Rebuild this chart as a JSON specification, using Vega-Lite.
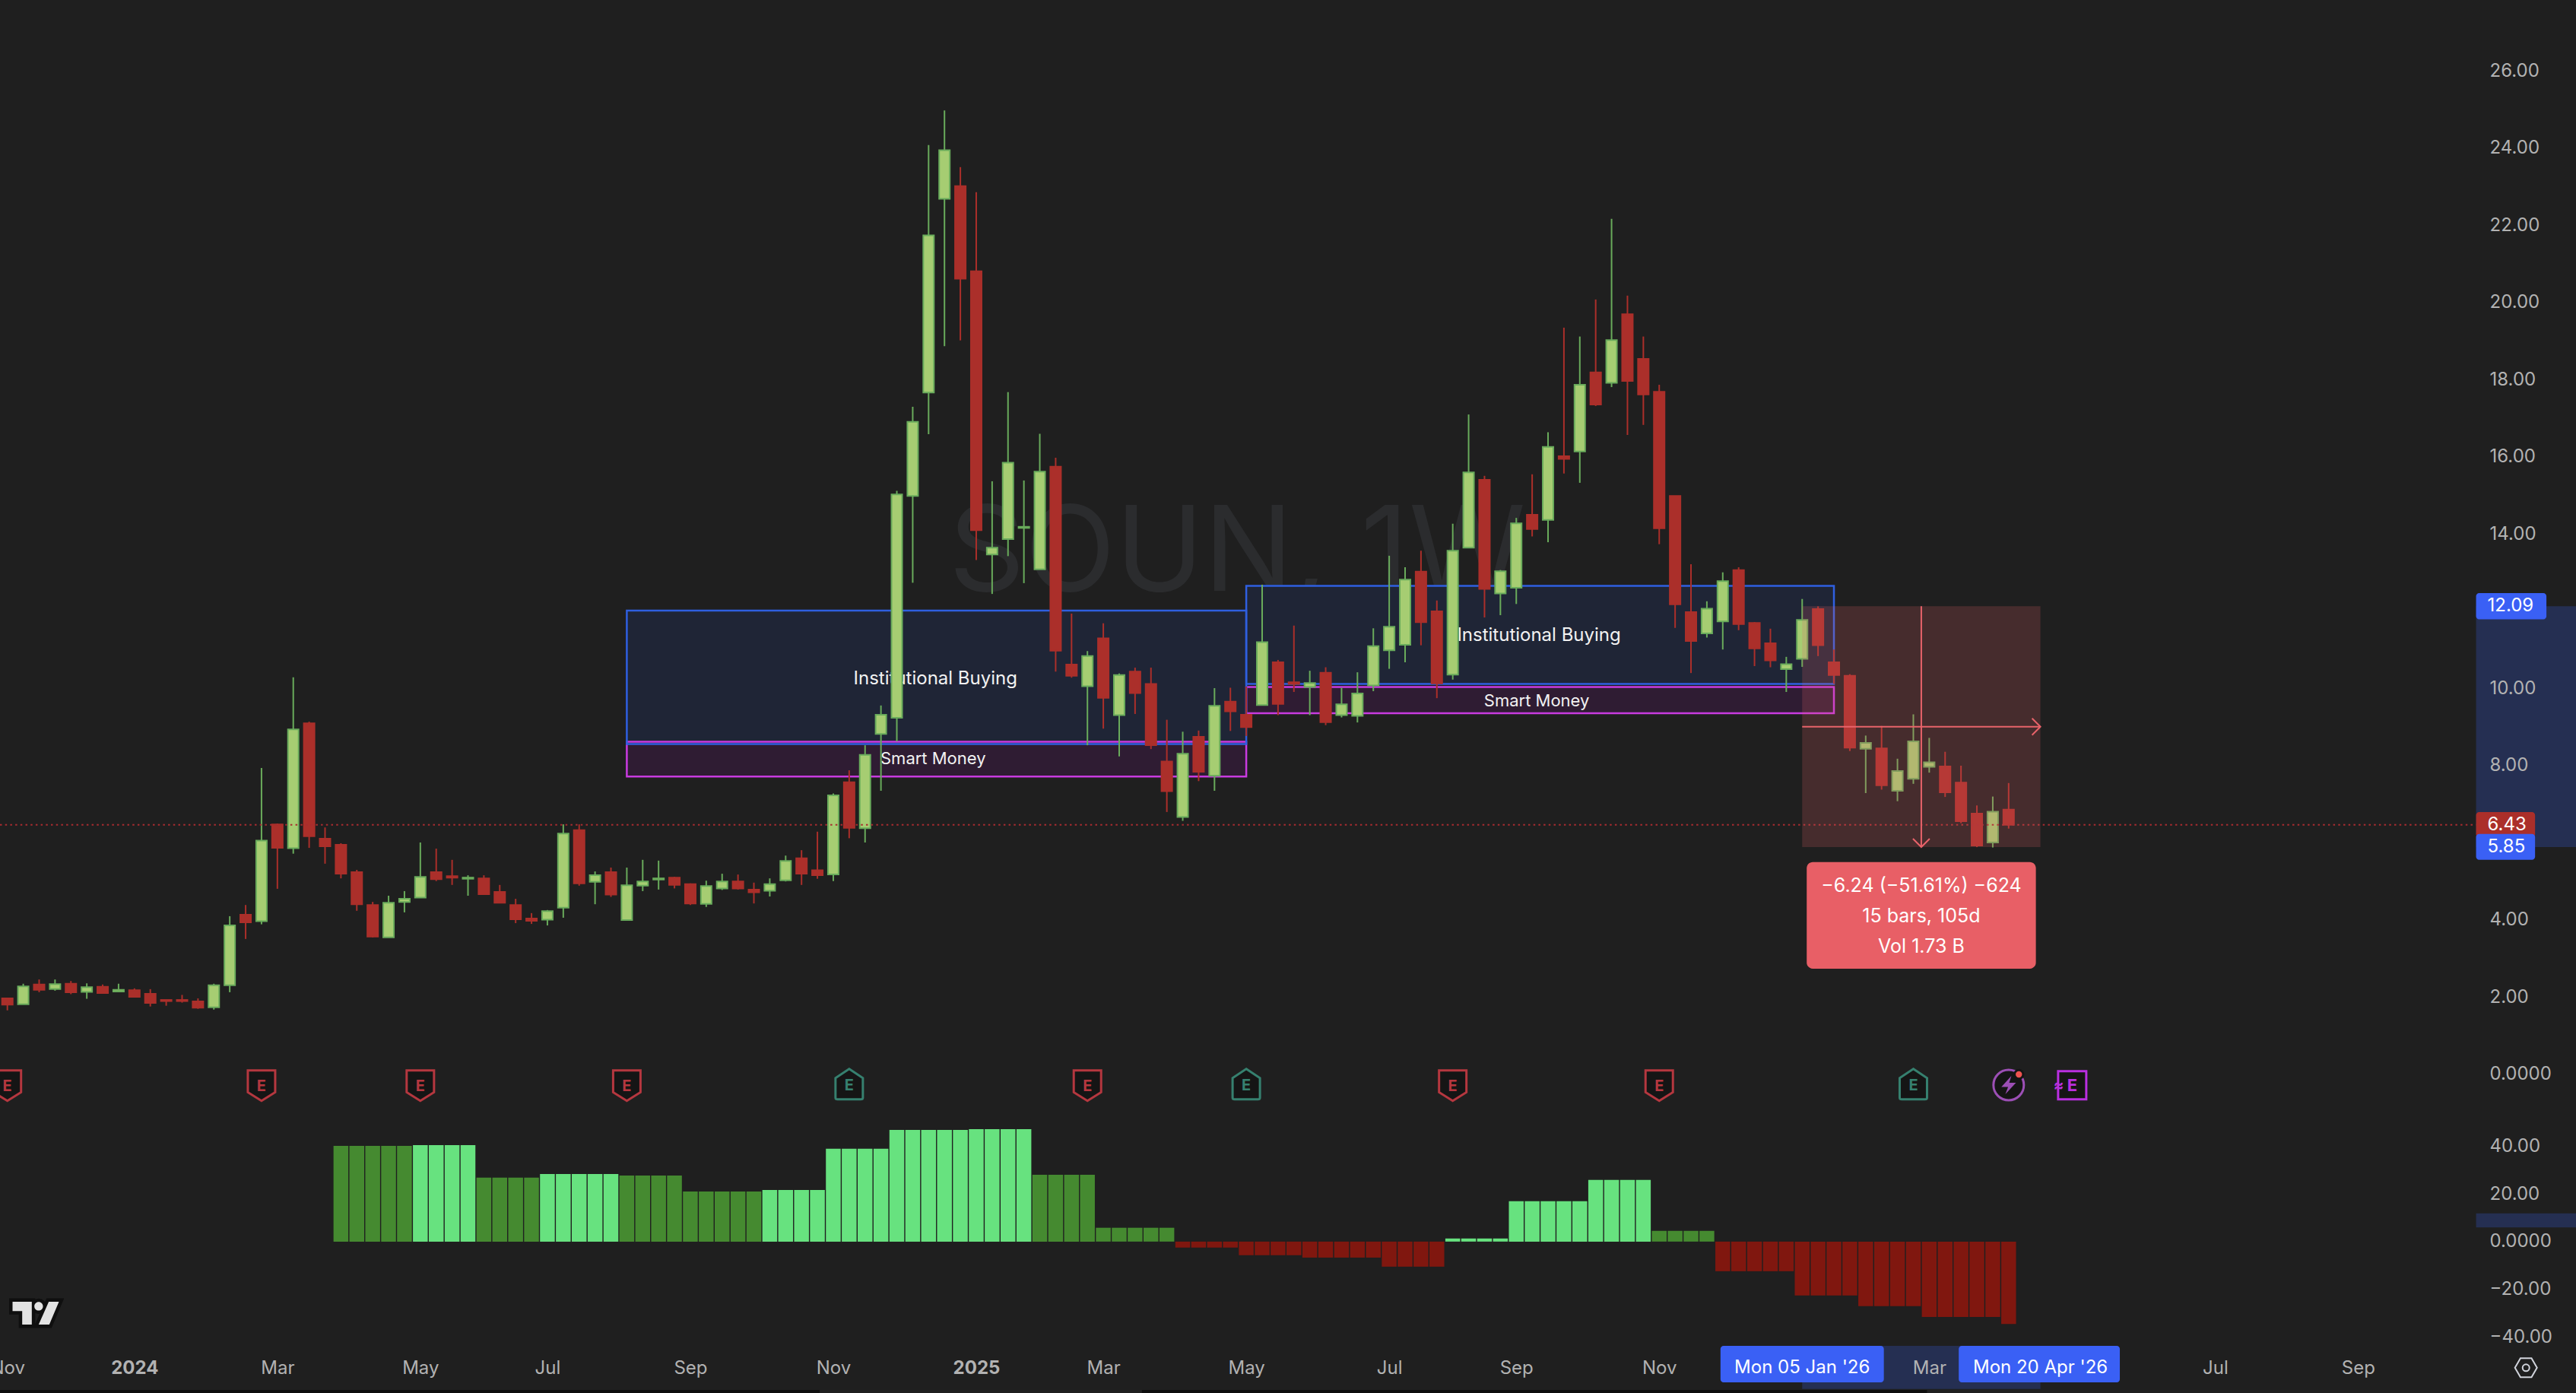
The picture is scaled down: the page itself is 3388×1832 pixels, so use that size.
{
"$schema":"https://vega.github.io/schema/vega-lite/v6.json",
"background":"#1f1f1f","padding":{"left":-15,"top":0,"right":0,"bottom":0},"spacing":0,
"config":{"view":{"stroke":null},"font":"Inter","text":{"font":"Inter"}},
"datasets":{"bars":[
{"d":"2023-11-06","o":1.93,"h":1.93,"l":1.62,"c":1.77},
{"d":"2023-11-13","o":1.78,"h":2.31,"l":1.78,"c":2.24},
{"d":"2023-11-20","o":2.29,"h":2.42,"l":2.09,"c":2.15},
{"d":"2023-11-27","o":2.17,"h":2.42,"l":2.13,"c":2.30},
{"d":"2023-12-04","o":2.31,"h":2.38,"l":2.04,"c":2.09},
{"d":"2023-12-11","o":2.10,"h":2.32,"l":1.92,"c":2.22},
{"d":"2023-12-18","o":2.23,"h":2.29,"l":2.07,"c":2.07},
{"d":"2023-12-25","o":2.11,"h":2.31,"l":2.11,"c":2.15},
{"d":"2024-01-01","o":2.14,"h":2.19,"l":1.97,"c":1.97},
{"d":"2024-01-08","o":2.05,"h":2.17,"l":1.72,"c":1.81},
{"d":"2024-01-15","o":1.89,"h":1.89,"l":1.74,"c":1.86},
{"d":"2024-01-22","o":1.89,"h":2.02,"l":1.82,"c":1.86},
{"d":"2024-01-29","o":1.85,"h":1.93,"l":1.66,"c":1.69},
{"d":"2024-02-05","o":1.70,"h":2.31,"l":1.64,"c":2.27},
{"d":"2024-02-12","o":2.27,"h":4.06,"l":2.09,"c":3.82},
{"d":"2024-02-19","o":4.10,"h":4.35,"l":3.47,"c":3.90},
{"d":"2024-02-26","o":3.93,"h":7.90,"l":3.85,"c":6.02},
{"d":"2024-03-04","o":6.44,"h":6.46,"l":4.77,"c":5.83},
{"d":"2024-03-11","o":5.82,"h":10.25,"l":5.68,"c":8.90},
{"d":"2024-03-18","o":9.06,"h":9.10,"l":5.83,"c":6.13},
{"d":"2024-03-25","o":6.07,"h":6.36,"l":5.42,"c":5.87},
{"d":"2024-04-01","o":5.91,"h":5.95,"l":5.04,"c":5.16,"m":40.1,"s":"weak"},
{"d":"2024-04-08","o":5.20,"h":5.26,"l":4.20,"c":4.37,"m":40.1,"s":"weak"},
{"d":"2024-04-15","o":4.35,"h":4.43,"l":3.51,"c":3.53,"m":40.1,"s":"weak"},
{"d":"2024-04-22","o":3.51,"h":4.59,"l":3.51,"c":4.41,"m":40.1,"s":"weak"},
{"d":"2024-04-29","o":4.43,"h":4.71,"l":4.16,"c":4.51,"m":40.1,"s":"weak"},
{"d":"2024-05-06","o":4.54,"h":5.97,"l":4.54,"c":5.08,"m":40.4,"s":"strong"},
{"d":"2024-05-13","o":5.20,"h":5.81,"l":4.97,"c":5.02,"m":40.4,"s":"strong"},
{"d":"2024-05-20","o":5.10,"h":5.52,"l":4.87,"c":5.06,"m":40.4,"s":"strong"},
{"d":"2024-05-27","o":5.03,"h":5.12,"l":4.59,"c":5.06,"m":40.4,"s":"strong"},
{"d":"2024-06-03","o":5.04,"h":5.12,"l":4.63,"c":4.63,"m":26.75,"s":"weak"},
{"d":"2024-06-10","o":4.69,"h":4.87,"l":4.41,"c":4.41,"m":26.75,"s":"weak"},
{"d":"2024-06-17","o":4.35,"h":4.51,"l":3.88,"c":3.98,"m":26.75,"s":"weak"},
{"d":"2024-06-24","o":4.00,"h":4.14,"l":3.86,"c":3.94,"m":26.75,"s":"weak"},
{"d":"2024-07-01","o":3.97,"h":4.22,"l":3.82,"c":4.19,"m":28.3,"s":"strong"},
{"d":"2024-07-08","o":4.28,"h":6.44,"l":4.02,"c":6.20,"m":28.3,"s":"strong"},
{"d":"2024-07-15","o":6.29,"h":6.44,"l":4.85,"c":4.91,"m":28.3,"s":"strong"},
{"d":"2024-07-22","o":4.95,"h":5.22,"l":4.37,"c":5.12,"m":28.3,"s":"strong"},
{"d":"2024-07-29","o":5.20,"h":5.32,"l":4.56,"c":4.62,"m":28.3,"s":"strong"},
{"d":"2024-08-05","o":3.96,"h":5.32,"l":3.96,"c":4.86,"m":27.7,"s":"weak"},
{"d":"2024-08-12","o":4.85,"h":5.52,"l":4.71,"c":4.96,"m":27.7,"s":"weak"},
{"d":"2024-08-19","o":5.01,"h":5.50,"l":4.75,"c":5.04,"m":27.7,"s":"weak"},
{"d":"2024-08-26","o":5.06,"h":5.08,"l":4.78,"c":4.87,"m":27.7,"s":"weak"},
{"d":"2024-09-02","o":4.89,"h":4.91,"l":4.35,"c":4.39,"m":21,"s":"weak"},
{"d":"2024-09-09","o":4.38,"h":4.98,"l":4.30,"c":4.84,"m":21,"s":"weak"},
{"d":"2024-09-16","o":4.78,"h":5.16,"l":4.74,"c":4.96,"m":21,"s":"weak"},
{"d":"2024-09-23","o":4.96,"h":5.14,"l":4.75,"c":4.78,"m":21,"s":"weak"},
{"d":"2024-09-30","o":4.75,"h":4.93,"l":4.39,"c":4.68,"m":21,"s":"weak"},
{"d":"2024-10-07","o":4.72,"h":5.04,"l":4.57,"c":4.89,"m":21.6,"s":"strong"},
{"d":"2024-10-14","o":4.99,"h":5.63,"l":4.96,"c":5.49,"m":21.6,"s":"strong"},
{"d":"2024-10-21","o":5.56,"h":5.77,"l":4.87,"c":5.16,"m":21.6,"s":"strong"},
{"d":"2024-10-28","o":5.25,"h":6.25,"l":5.03,"c":5.12,"m":21.6,"s":"strong"},
{"d":"2024-11-04","o":5.14,"h":7.24,"l":4.97,"c":7.19,"m":38.9,"s":"strong"},
{"d":"2024-11-11","o":7.53,"h":7.84,"l":6.08,"c":6.35,"m":38.9,"s":"strong"},
{"d":"2024-11-18","o":6.34,"h":8.49,"l":5.97,"c":8.24,"m":38.9,"s":"strong"},
{"d":"2024-11-25","o":8.78,"h":9.52,"l":7.31,"c":9.28,"m":38.9,"s":"strong"},
{"d":"2024-12-02","o":9.20,"h":15.08,"l":8.59,"c":14.99,"m":46.8,"s":"strong"},
{"d":"2024-12-09","o":14.95,"h":17.26,"l":12.70,"c":16.87,"m":46.8,"s":"strong"},
{"d":"2024-12-16","o":17.63,"h":24.04,"l":16.55,"c":21.70,"m":46.8,"s":"strong"},
{"d":"2024-12-23","o":22.65,"h":24.94,"l":18.83,"c":23.91,"m":46.8,"s":"strong"},
{"d":"2024-12-30","o":22.98,"h":23.47,"l":18.98,"c":20.58,"m":46.8,"s":"strong"},
{"d":"2025-01-06","o":20.77,"h":22.82,"l":13.29,"c":14.06,"m":47.1,"s":"strong"},
{"d":"2025-01-13","o":13.43,"h":15.33,"l":12.41,"c":13.61,"m":47.1,"s":"strong"},
{"d":"2025-01-20","o":13.83,"h":17.64,"l":13.39,"c":15.81,"m":47.1,"s":"strong"},
{"d":"2025-01-27","o":14.12,"h":15.35,"l":12.69,"c":14.15,"m":47.1,"s":"strong"},
{"d":"2025-02-03","o":13.05,"h":16.56,"l":13.05,"c":15.58,"m":28,"s":"weak"},
{"d":"2025-02-10","o":15.71,"h":15.94,"l":10.40,"c":10.94,"m":28,"s":"weak"},
{"d":"2025-02-17","o":10.58,"h":11.90,"l":10.24,"c":10.29,"m":28,"s":"weak"},
{"d":"2025-02-24","o":10.02,"h":10.93,"l":8.49,"c":10.80,"m":28,"s":"weak"},
{"d":"2025-03-03","o":11.26,"h":11.65,"l":8.92,"c":9.72,"m":5.8,"s":"weak"},
{"d":"2025-03-10","o":9.27,"h":10.35,"l":8.20,"c":10.31,"m":5.8,"s":"weak"},
{"d":"2025-03-17","o":10.40,"h":10.50,"l":9.30,"c":9.84,"m":5.8,"s":"weak"},
{"d":"2025-03-24","o":10.08,"h":10.50,"l":8.39,"c":8.49,"m":5.8,"s":"weak"},
{"d":"2025-03-31","o":8.07,"h":9.15,"l":6.76,"c":7.30,"m":5.8,"s":"weak"},
{"d":"2025-04-07","o":6.63,"h":8.84,"l":6.53,"c":8.27,"m":-2.5,"s":"down"},
{"d":"2025-04-14","o":8.71,"h":8.87,"l":7.56,"c":7.80,"m":-2.5,"s":"down"},
{"d":"2025-04-21","o":7.70,"h":9.97,"l":7.31,"c":9.51,"m":-2.5,"s":"down"},
{"d":"2025-04-28","o":9.62,"h":9.98,"l":8.86,"c":9.37,"m":-2.5,"s":"down"},
{"d":"2025-05-05","o":9.28,"h":10.01,"l":8.73,"c":8.96,"m":-5.7,"s":"down"},
{"d":"2025-05-12","o":9.53,"h":12.65,"l":9.53,"c":11.16,"m":-5.7,"s":"down"},
{"d":"2025-05-19","o":10.64,"h":10.70,"l":9.27,"c":9.56,"m":-5.7,"s":"down"},
{"d":"2025-05-26","o":10.12,"h":11.59,"l":9.87,"c":10.08,"m":-5.7,"s":"down"},
{"d":"2025-06-02","o":10.00,"h":10.42,"l":9.27,"c":10.10,"m":-6.7,"s":"down"},
{"d":"2025-06-09","o":10.37,"h":10.51,"l":9.01,"c":9.09,"m":-6.7,"s":"down"},
{"d":"2025-06-16","o":9.27,"h":9.98,"l":9.21,"c":9.55,"m":-6.7,"s":"down"},
{"d":"2025-06-23","o":9.25,"h":10.38,"l":9.08,"c":9.83,"m":-6.7,"s":"down"},
{"d":"2025-06-30","o":10.04,"h":11.52,"l":9.89,"c":11.06,"m":-6.7,"s":"down"},
{"d":"2025-07-07","o":10.95,"h":13.40,"l":10.47,"c":11.56,"m":-10.5,"s":"down"},
{"d":"2025-07-14","o":11.09,"h":13.10,"l":10.64,"c":12.78,"m":-10.5,"s":"down"},
{"d":"2025-07-21","o":12.99,"h":13.53,"l":11.08,"c":11.68,"m":-10.5,"s":"down"},
{"d":"2025-07-28","o":11.96,"h":12.24,"l":9.71,"c":10.09,"m":-10.5,"s":"down"},
{"d":"2025-08-04","o":10.32,"h":14.23,"l":10.19,"c":13.53,"m":1.3,"s":"strong"},
{"d":"2025-08-11","o":13.61,"h":17.06,"l":13.61,"c":15.56,"m":1.3,"s":"strong"},
{"d":"2025-08-18","o":15.37,"h":15.47,"l":11.80,"c":12.54,"m":1.3,"s":"strong"},
{"d":"2025-08-25","o":12.42,"h":13.03,"l":11.86,"c":13.00,"m":1.3,"s":"strong"},
{"d":"2025-09-01","o":12.57,"h":14.38,"l":12.15,"c":14.24,"m":16.9,"s":"strong"},
{"d":"2025-09-08","o":14.46,"h":15.51,"l":13.90,"c":14.09,"m":16.9,"s":"strong"},
{"d":"2025-09-15","o":14.33,"h":16.60,"l":13.75,"c":16.22,"m":16.9,"s":"strong"},
{"d":"2025-09-22","o":15.98,"h":19.31,"l":15.53,"c":15.91,"m":16.9,"s":"strong"},
{"d":"2025-09-29","o":16.10,"h":19.08,"l":15.29,"c":17.83,"m":16.9,"s":"strong"},
{"d":"2025-10-06","o":18.15,"h":20.04,"l":17.28,"c":17.32,"m":25.8,"s":"strong"},
{"d":"2025-10-13","o":17.88,"h":22.13,"l":17.77,"c":18.99,"m":25.8,"s":"strong"},
{"d":"2025-10-20","o":19.66,"h":20.14,"l":16.53,"c":17.93,"m":25.8,"s":"strong"},
{"d":"2025-10-27","o":18.50,"h":19.08,"l":16.79,"c":17.58,"m":25.8,"s":"strong"},
{"d":"2025-11-03","o":17.65,"h":17.83,"l":13.70,"c":14.11,"m":4.5,"s":"weak"},
{"d":"2025-11-10","o":14.95,"h":14.95,"l":11.53,"c":12.14,"m":4.5,"s":"weak"},
{"d":"2025-11-17","o":11.94,"h":13.18,"l":10.36,"c":11.19,"m":4.5,"s":"weak"},
{"d":"2025-11-24","o":11.39,"h":12.22,"l":11.28,"c":12.03,"m":4.5,"s":"weak"},
{"d":"2025-12-01","o":11.70,"h":12.97,"l":10.97,"c":12.74,"m":-12.4,"s":"down"},
{"d":"2025-12-08","o":13.03,"h":13.10,"l":11.47,"c":11.63,"m":-12.4,"s":"down"},
{"d":"2025-12-15","o":11.66,"h":11.68,"l":10.54,"c":11.00,"m":-12.4,"s":"down"},
{"d":"2025-12-22","o":11.13,"h":11.51,"l":10.51,"c":10.69,"m":-12.4,"s":"down"},
{"d":"2025-12-29","o":10.46,"h":10.78,"l":9.87,"c":10.59,"m":-12.4,"s":"down"},
{"d":"2026-01-05","o":10.73,"h":12.28,"l":10.52,"c":11.74,"m":-22.6,"s":"down"},
{"d":"2026-01-12","o":12.02,"h":12.09,"l":10.80,"c":11.08,"m":-22.6,"s":"down"},
{"d":"2026-01-19","o":10.64,"h":10.97,"l":10.08,"c":10.31,"m":-22.6,"s":"down"},
{"d":"2026-01-26","o":10.29,"h":10.33,"l":8.34,"c":8.43,"m":-22.6,"s":"down"},
{"d":"2026-02-02","o":8.40,"h":8.74,"l":7.25,"c":8.55,"m":-27,"s":"down"},
{"d":"2026-02-09","o":8.41,"h":8.99,"l":7.34,"c":7.45,"m":-27,"s":"down"},
{"d":"2026-02-16","o":7.31,"h":8.14,"l":7.04,"c":7.82,"m":-27,"s":"down"},
{"d":"2026-02-23","o":7.62,"h":9.29,"l":7.49,"c":8.59,"m":-27,"s":"down"},
{"d":"2026-03-02","o":7.93,"h":8.68,"l":7.78,"c":8.05,"m":-31.6,"s":"down"},
{"d":"2026-03-09","o":7.94,"h":8.32,"l":7.15,"c":7.27,"m":-31.6,"s":"down"},
{"d":"2026-03-16","o":7.52,"h":7.96,"l":6.47,"c":6.52,"m":-31.6,"s":"down"},
{"d":"2026-03-23","o":6.72,"h":6.93,"l":5.85,"c":5.89,"m":-31.6,"s":"down"},
{"d":"2026-03-30","o":5.97,"h":7.16,"l":5.84,"c":6.77,"m":-31.6,"s":"down"},
{"d":"2026-04-06","o":6.82,"h":7.51,"l":6.33,"c":6.43,"m":-34.5,"s":"down"}
]},
"vconcat":[
{"width":3388,"height":1452,"layer":[
{"data":{"values":[{"t":"2025-05-01","p":13.42,"label":"SOUN, 1W"}],"format":{"parse":{"t":"date"}}},
 "mark":{"type":"text","font":"Inter","fontSize":156,"color":"#2b2c2e","align":"center","baseline":"middle"},
 "encoding":{"x":{"field":"t","type":"temporal","title":null,"axis":null,"scale":{"padding":0,"domain":[{"year":2023,"month":11,"date":2,"hours":18},{"year":2026,"month":12,"date":12,"hours":1}]}},
 "y":{"field":"p","type":"quantitative","title":null,"scale":{"domain":[-0.808,27.8],"nice":false,"zero":false,"padding":0},
 "axis":{"orient":"right","offset":-132,"values":[0,2,4,8,10,14,16,18,20,22,24,26],"labelExpr":"datum.value==0?'0.0000':format(datum.value,'.2f')","labelFont":"Inter","labelFontSize":24,"labelColor":"#b2b2b2","labelPadding":18,"labelOffset":2,"ticks":false,"domain":false,"grid":false,"zindex":1,"title":null}},
 "text":{"field":"label"}}},
{"data":{"values":[{"from":"2024-08-05","to":"2025-05-05","top":11.98,"bottom":8.52},{"from":"2025-05-05","to":"2026-01-19","top":12.62,"bottom":10.08}],"format":{"parse":{"from":"date","to":"date"}}},
 "mark":{"type":"rect","fill":"#1f2536"},
 "encoding":{"x":{"field":"from","type":"temporal"},"x2":{"field":"to"},"y":{"field":"top","type":"quantitative"},"y2":{"field":"bottom"}}},
{"data":{"values":[{"from":"2024-08-05","to":"2025-05-05","top":8.58,"bottom":7.68},{"from":"2025-05-05","to":"2026-01-19","top":10.0,"bottom":9.32}],"format":{"parse":{"from":"date","to":"date"}}},
 "mark":{"type":"rect","fill":"#2f1c33","stroke":"#c93be0","strokeWidth":2.5},
 "encoding":{"x":{"field":"from","type":"temporal"},"x2":{"field":"to"},"y":{"field":"top","type":"quantitative"},"y2":{"field":"bottom"}}},
{"data":{"values":[{"from":"2024-08-05","to":"2025-05-05","top":11.98,"bottom":8.52},{"from":"2025-05-05","to":"2026-01-19","top":12.62,"bottom":10.08}],"format":{"parse":{"from":"date","to":"date"}}},
 "mark":{"type":"rect","fillOpacity":0,"stroke":"#2f5fe0","strokeWidth":2.5},
 "encoding":{"x":{"field":"from","type":"temporal"},"x2":{"field":"to"},"y":{"field":"top","type":"quantitative"},"y2":{"field":"bottom"}}},
{"data":{"values":[{"t":"2024-12-19","p":10.2,"label":"Institutional Buying"},{"t":"2025-09-11","p":11.33,"label":"Institutional Buying"}],"format":{"parse":{"t":"date"}}},
 "mark":{"type":"text","font":"Inter","fontSize":24,"color":"#f2f2f2","align":"center","baseline":"middle"},
 "encoding":{"x":{"field":"t","type":"temporal"},"y":{"field":"p","type":"quantitative"},"text":{"field":"label"}}},
{"data":{"values":[{"t":"2024-12-18","p":8.14,"label":"Smart Money"},{"t":"2025-09-10","p":9.64,"label":"Smart Money"}],"format":{"parse":{"t":"date"}}},
 "mark":{"type":"text","font":"Inter","fontSize":22,"color":"#f2f2f2","align":"center","baseline":"middle"},
 "encoding":{"x":{"field":"t","type":"temporal"},"y":{"field":"p","type":"quantitative"},"text":{"field":"label"}}},
{"data":{"name":"bars"},"mark":{"type":"rule","strokeWidth":2},
 "encoding":{"x":{"field":"d","type":"temporal"},"y":{"field":"h","type":"quantitative"},"y2":{"field":"l"},
 "color":{"condition":{"test":"datum.c>=datum.o","value":"#69ab5b"},"value":"#ab2f2a"}}},
{"data":{"name":"bars"},"mark":{"type":"bar","size":14,"strokeWidth":2},
 "encoding":{"x":{"field":"d","type":"temporal"},"y":{"field":"o","type":"quantitative"},"y2":{"field":"c"},
 "fill":{"condition":{"test":"datum.c>=datum.o","value":"#a6cd72"},"value":"#ab2f2a"},
 "stroke":{"condition":{"test":"datum.c>=datum.o","value":"#69ab5b"},"value":"#ab2f2a"}}},
{"data":{"values":[{"from":"2023-11-02T18:00:00","to":"2026-10-29","p":6.43}],"format":{"parse":{"from":"date","to":"date"}}},
 "mark":{"type":"rule","stroke":"#a82c30","strokeWidth":2,"strokeDash":[2.5,4.2]},
 "encoding":{"x":{"field":"from","type":"temporal"},"x2":{"field":"to"},"y":{"field":"p","type":"quantitative"}}},
{"data":{"values":[{"from":"2026-01-05","to":"2026-04-20","top":12.09,"bottom":5.85}],"format":{"parse":{"from":"date","to":"date"}}},
 "mark":{"type":"rect","fill":"#e8636a","fillOpacity":0.2},
 "encoding":{"x":{"field":"from","type":"temporal"},"x2":{"field":"to"},"y":{"field":"top","type":"quantitative"},"y2":{"field":"bottom"}}},
{"data":{"values":[{"from":"2026-01-05","to":"2026-04-20","p":8.97}],"format":{"parse":{"from":"date","to":"date"}}},
 "mark":{"type":"rule","stroke":"#e8636a","strokeWidth":2},
 "encoding":{"x":{"field":"from","type":"temporal"},"x2":{"field":"to"},"y":{"field":"p","type":"quantitative"}}},
{"data":{"values":[{"t":"2026-02-26T12:00:00","top":12.09,"bottom":5.85}],"format":{"parse":{"t":"date"}}},
 "mark":{"type":"rule","stroke":"#e8636a","strokeWidth":2},
 "encoding":{"x":{"field":"t","type":"temporal"},"y":{"field":"top","type":"quantitative"},"y2":{"field":"bottom"}}},
{"data":{"values":[{"t":"2026-04-20","p":8.97}],"format":{"parse":{"t":"date"}}},
 "mark":{"type":"point","shape":"M-0.5,-0.5L0,0L-0.5,0.5","filled":false,"stroke":"#e8636a","strokeWidth":2,"size":1936,"opacity":1},
 "encoding":{"x":{"field":"t","type":"temporal"},"y":{"field":"p","type":"quantitative"}}},
{"data":{"values":[{"t":"2026-02-26T12:00:00","p":5.85}],"format":{"parse":{"t":"date"}}},
 "mark":{"type":"point","shape":"M-0.5,-0.5L0,0L0.5,-0.5","filled":false,"stroke":"#e8636a","strokeWidth":2,"size":1936,"opacity":1},
 "encoding":{"x":{"field":"t","type":"temporal"},"y":{"field":"p","type":"quantitative"}}},
{"data":{"values":[{"from":"2026-01-07","to":"2026-04-18","top":5.46,"bottom":2.70}],"format":{"parse":{"from":"date","to":"date"}}},
 "mark":{"type":"rect","fill":"#e85f66","cornerRadius":8},
 "encoding":{"x":{"field":"from","type":"temporal"},"x2":{"field":"to"},"y":{"field":"top","type":"quantitative"},"y2":{"field":"bottom"}}},
{"data":{"values":[{"t":"2026-02-26T12:00:00","p":4.85,"label":"−6.24 (−51.61%) −624"},{"t":"2026-02-26T12:00:00","p":4.06,"label":"15 bars, 105d"},{"t":"2026-02-26T12:00:00","p":3.27,"label":"Vol 1.73 B"}],"format":{"parse":{"t":"date"}}},
 "mark":{"type":"text","font":"Inter","fontSize":25,"color":"#ffffff","align":"center","baseline":"middle"},
 "encoding":{"x":{"field":"t","type":"temporal"},"y":{"field":"p","type":"quantitative"},"text":{"field":"label"}}},
{"data":{"values":[{"from":"2026-10-29","to":"2026-12-12T01:00:00","top":12.09,"bottom":5.85}],"format":{"parse":{"from":"date","to":"date"}}},
 "mark":{"type":"rect","fill":"#252f52"},
 "encoding":{"x":{"field":"from","type":"temporal"},"x2":{"field":"to"},"y":{"field":"top","type":"quantitative"},"y2":{"field":"bottom"}}},
{"data":{"values":[{"from":"2026-10-29","to":"2026-11-29","top":12.43,"bottom":11.75}],"format":{"parse":{"from":"date","to":"date"}}},
 "mark":{"type":"rect","fill":"#3a60f5","cornerRadius":4},
 "encoding":{"x":{"field":"from","type":"temporal"},"x2":{"field":"to"},"y":{"field":"top","type":"quantitative"},"y2":{"field":"bottom"}}},
{"data":{"values":[{"from":"2026-10-29","to":"2026-11-24","top":6.76,"bottom":6.11}],"format":{"parse":{"from":"date","to":"date"}}},
 "mark":{"type":"rect","fill":"#ab2f2a","cornerRadius":4},
 "encoding":{"x":{"field":"from","type":"temporal"},"x2":{"field":"to"},"y":{"field":"top","type":"quantitative"},"y2":{"field":"bottom"}}},
{"data":{"values":[{"from":"2026-10-29","to":"2026-11-24","top":6.19,"bottom":5.52}],"format":{"parse":{"from":"date","to":"date"}}},
 "mark":{"type":"rect","fill":"#3a60f5","cornerRadius":4},
 "encoding":{"x":{"field":"from","type":"temporal"},"x2":{"field":"to"},"y":{"field":"top","type":"quantitative"},"y2":{"field":"bottom"}}},
{"data":{"values":[{"t":"2026-11-03","p":12.09,"label":"12.09"},{"t":"2026-11-03","p":6.43,"label":"6.43"},{"t":"2026-11-03","p":5.85,"label":"5.85"}],"format":{"parse":{"t":"date"}}},
 "mark":{"type":"text","font":"Inter","fontSize":24,"color":"#ffffff","align":"left","baseline":"middle"},
 "encoding":{"x":{"field":"t","type":"temporal"},"y":{"field":"p","type":"quantitative"},"text":{"field":"label"}}},
{"data":{"values":[{"t":"2023-11-06"},{"t":"2024-02-26"},{"t":"2024-05-06"},{"t":"2024-08-05"},{"t":"2025-02-24"},{"t":"2025-08-04"},{"t":"2025-11-03"}],"format":{"parse":{"t":"date"}}},
 "mark":{"type":"point","shape":"M-0.45,-0.5L0.45,-0.5L0.45,0.22L0,0.5L-0.45,0.22Z","filled":true,"fill":"#151515","stroke":"#b5373f","strokeWidth":3,"size":6400,"opacity":1},
 "encoding":{"x":{"field":"t","type":"temporal"},"y":{"datum":-0.33}}},
{"data":{"values":[{"t":"2023-11-06"},{"t":"2024-02-26"},{"t":"2024-05-06"},{"t":"2024-08-05"},{"t":"2025-02-24"},{"t":"2025-08-04"},{"t":"2025-11-03"}],"format":{"parse":{"t":"date"}}},
 "mark":{"type":"text","text":"E","font":"Inter","fontWeight":"bold","fontSize":20,"color":"#b5373f","align":"center","baseline":"middle"},
 "encoding":{"x":{"field":"t","type":"temporal"},"y":{"datum":-0.36}}},
{"data":{"values":[{"t":"2024-11-11"},{"t":"2025-05-05"},{"t":"2026-02-23"}],"format":{"parse":{"t":"date"}}},
 "mark":{"type":"point","shape":"M0,-0.5L0.45,-0.2L0.45,0.45Q0.45,0.5 0.38,0.5L-0.38,0.5Q-0.45,0.5 -0.45,0.45L-0.45,-0.2Z","filled":true,"fill":"#151515","stroke":"#36806f","strokeWidth":3,"size":6400,"opacity":1},
 "encoding":{"x":{"field":"t","type":"temporal"},"y":{"datum":-0.29}}},
{"data":{"values":[{"t":"2024-11-11"},{"t":"2025-05-05"},{"t":"2026-02-23"}],"format":{"parse":{"t":"date"}}},
 "mark":{"type":"text","text":"E","font":"Inter","fontWeight":"bold","fontSize":20,"color":"#36806f","align":"center","baseline":"middle"},
 "encoding":{"x":{"field":"t","type":"temporal"},"y":{"datum":-0.34}}},
{"data":{"values":[{"t":"2026-04-06"}],"format":{"parse":{"t":"date"}}},
 "mark":{"type":"point","shape":"circle","filled":true,"fill":"#151515","stroke":"#9c4fb5","strokeWidth":3,"size":1600,"opacity":1},
 "encoding":{"x":{"field":"t","type":"temporal"},"y":{"datum":-0.315}}},
{"data":{"values":[{"t":"2026-04-06"}],"format":{"parse":{"t":"date"}}},
 "mark":{"type":"point","shape":"M0.15,-0.5L-0.4,0.1L-0.03,0.1L-0.18,0.5L0.4,-0.12L0.03,-0.12Z","filled":true,"fill":"#9c4fb5","size":2304,"opacity":1},
 "encoding":{"x":{"field":"t","type":"temporal"},"y":{"datum":-0.315}}},
{"data":{"values":[{"t":"2026-04-10T12:00:00"}],"format":{"parse":{"t":"date"}}},
 "mark":{"type":"point","shape":"circle","filled":true,"fill":"#ef5350","stroke":"#151515","strokeWidth":3,"size":130,"opacity":1},
 "encoding":{"x":{"field":"t","type":"temporal"},"y":{"datum":-0.04}}},
{"data":{"values":[{"t":"2026-05-04"}],"format":{"parse":{"t":"date"}}},
 "mark":{"type":"point","shape":"square","filled":true,"fill":"#151515","stroke":"#b92fe0","strokeWidth":3,"size":1369,"opacity":1},
 "encoding":{"x":{"field":"t","type":"temporal"},"y":{"datum":-0.32}}},
{"data":{"values":[{"t":"2026-05-04"}],"format":{"parse":{"t":"date"}}},
 "mark":{"type":"text","text":"E","font":"Inter","fontWeight":"bold","fontSize":22,"color":"#b92fe0","align":"center","baseline":"middle"},
 "encoding":{"x":{"field":"t","type":"temporal"},"y":{"datum":-0.34}}},
{"data":{"values":[{"t":"2026-04-28"}],"format":{"parse":{"t":"date"}}},
 "mark":{"type":"text","text":"≈","font":"Inter","fontWeight":"bold","fontSize":20,"color":"#b92fe0","align":"center","baseline":"middle"},
 "encoding":{"x":{"field":"t","type":"temporal"},"y":{"datum":-0.34}}}
]},
{"width":3388,"height":380,"layer":[
{"data":{"name":"bars"},"transform":[{"filter":"isValid(datum.m)"}],
 "mark":{"type":"bar","size":19.5},
 "encoding":{"x":{"field":"d","type":"temporal","title":null,
 "scale":{"padding":0,"domain":[{"year":2023,"month":11,"date":2,"hours":18},{"year":2026,"month":12,"date":12,"hours":1}]},
 "axis":{"orient":"bottom","offset":-35,"values":[{"year":2023,"month":11,"date":6},{"year":2024,"month":1,"date":1},{"year":2024,"month":3,"date":4},{"year":2024,"month":5,"date":6},{"year":2024,"month":7,"date":1},{"year":2024,"month":9,"date":2},{"year":2024,"month":11,"date":4},{"year":2025,"month":1,"date":6},{"year":2025,"month":3,"date":3},{"year":2025,"month":5,"date":5},{"year":2025,"month":7,"date":7},{"year":2025,"month":9,"date":1},{"year":2025,"month":11,"date":3},{"year":2026,"month":3,"date":2},{"year":2026,"month":7,"date":6},{"year":2026,"month":9,"date":7}],
 "labelExpr":"month(datum.value)==0?timeFormat(datum.value,'%Y'):timeFormat(datum.value,'%b')","labelFont":"Inter","labelFontSize":24,"labelColor":"#b2b2b2","labelFontWeight":{"condition":{"test":"month(datum.value)==0","value":"bold"},"value":"normal"},"labelBaseline":"middle","labelPadding":0,"labelAlign":"center","labelOverlap":false,"labelFlush":false,"ticks":false,"domain":false,"grid":false,"zindex":1,"title":null}},
 "y":{"field":"m","type":"quantitative","title":null,"scale":{"domain":[-64.04,56.96],"nice":false,"zero":false,"padding":0},
 "axis":{"orient":"right","offset":-132,"values":[40,20,0,-20,-40],"labelExpr":"datum.value==0?'0.0000':format(datum.value,'.2f')","labelFont":"Inter","labelFontSize":24,"labelColor":"#b2b2b2","labelPadding":18,"labelOffset":0,"ticks":false,"domain":false,"grid":false,"zindex":1,"title":null}},
 "y2":{"datum":0},
 "color":{"field":"s","type":"nominal","legend":null,"scale":{"domain":["strong","weak","down"],"range":["#67e27f","#458a30","#80170f"]}}}},
{"mark":{"type":"rule","stroke":"#2c2d33","strokeWidth":2.5},"encoding":{"y":{"datum":56.56}}},
{"data":{"values":[{"from":"2026-10-29","to":"2026-12-12T01:00:00","top":11.8,"bottom":5.9}],"format":{"parse":{"from":"date","to":"date"}}},
 "mark":{"type":"rect","fill":"#252f52"},
 "encoding":{"x":{"field":"from","type":"temporal"},"x2":{"field":"to"},"y":{"field":"top","type":"quantitative"},"y2":{"field":"bottom"}}},
{"data":{"values":[{"from":"2026-01-05","to":"2026-04-20","top":-43.64,"bottom":-61.74}],"format":{"parse":{"from":"date","to":"date"}}},
 "mark":{"type":"rect","fill":"#252f52"},
 "encoding":{"x":{"field":"from","type":"temporal"},"x2":{"field":"to"},"y":{"field":"top","type":"quantitative"},"y2":{"field":"bottom"}}},
{"data":{"values":[{"from":"2025-11-30","to":"2026-02-10","top":-43.64,"bottom":-58.94},{"from":"2026-03-15","to":"2026-05-25","top":-43.64,"bottom":-58.94}],"format":{"parse":{"from":"date","to":"date"}}},
 "mark":{"type":"rect","fill":"#3a60f5","cornerRadius":4},
 "encoding":{"x":{"field":"from","type":"temporal"},"x2":{"field":"to"},"y":{"field":"top","type":"quantitative"},"y2":{"field":"bottom"}}},
{"data":{"values":[{"t":"2026-01-05","label":"Mon 05 Jan '26"},{"t":"2026-04-20","label":"Mon 20 Apr '26"}],"format":{"parse":{"t":"date"}}},
 "mark":{"type":"text","font":"Inter","fontSize":24,"color":"#ffffff","align":"center","baseline":"middle"},
 "encoding":{"x":{"field":"t","type":"temporal"},"y":{"datum":-52.84},"text":{"field":"label"}}},
{"mark":{"type":"rule","stroke":"#2c2d33","strokeWidth":2},"encoding":{"y":{"datum":-61.54}}},
{"data":{"values":[{"from":"2023-11-02T18:00:00","to":"2024-10-29","top":-62.14,"bottom":-64.04},{"from":"2025-03-20","to":"2026-03-01","top":-62.14,"bottom":-64.04}],"format":{"parse":{"from":"date","to":"date"}}},
 "mark":{"type":"rect","fill":"#0d0d0d"},
 "encoding":{"x":{"field":"from","type":"temporal"},"x2":{"field":"to"},"y":{"field":"top","type":"quantitative"},"y2":{"field":"bottom"}}},
{"data":{"values":[{"t":"2023-11-18T12:00:00","p":-29.94}],"format":{"parse":{"t":"date"}}},
 "mark":{"type":"point","shape":"M-0.5,-0.246L-0.085,-0.246L-0.085,0.246L-0.292,0.246L-0.292,-0.044L-0.5,-0.044ZM-0.03,-0.148A0.093,0.093 0 1 0 0.156,-0.148A0.093,0.093 0 1 0 -0.03,-0.148ZM0.281,-0.246L0.5,-0.246L0.292,0.246L0.063,0.246Z","filled":true,"fill":"#0f0f0f","stroke":"#0f0f0f","strokeWidth":9,"size":14884,"opacity":1},
 "encoding":{"x":{"field":"t","type":"temporal"},"y":{"field":"p","type":"quantitative"}}},
{"data":{"values":[{"t":"2023-11-18T12:00:00","p":-29.94}],"format":{"parse":{"t":"date"}}},
 "mark":{"type":"point","shape":"M-0.5,-0.246L-0.085,-0.246L-0.085,0.246L-0.292,0.246L-0.292,-0.044L-0.5,-0.044ZM-0.03,-0.148A0.093,0.093 0 1 0 0.156,-0.148A0.093,0.093 0 1 0 -0.03,-0.148ZM0.281,-0.246L0.5,-0.246L0.292,0.246L0.063,0.246Z","filled":true,"fill":"#e3e3e3","size":14884,"opacity":1},
 "encoding":{"x":{"field":"t","type":"temporal"},"y":{"field":"p","type":"quantitative"}}},
{"data":{"values":[{"t":"2026-11-20","p":-52.84}],"format":{"parse":{"t":"date"}}},
 "mark":{"type":"point","shape":"M-0.5,0L-0.25,-0.43L0.25,-0.43L0.5,0L0.25,0.43L-0.25,0.43Z","filled":false,"stroke":"#d1d4dc","strokeWidth":2,"size":3364,"opacity":1},
 "encoding":{"x":{"field":"t","type":"temporal"},"y":{"field":"p","type":"quantitative"}}},
{"data":{"values":[{"t":"2026-11-20","p":-52.84}],"format":{"parse":{"t":"date"}}},
 "mark":{"type":"point","shape":"circle","filled":false,"stroke":"#d1d4dc","strokeWidth":2,"size":81,"opacity":1},
 "encoding":{"x":{"field":"t","type":"temporal"},"y":{"field":"p","type":"quantitative"}}}
]}
]}
